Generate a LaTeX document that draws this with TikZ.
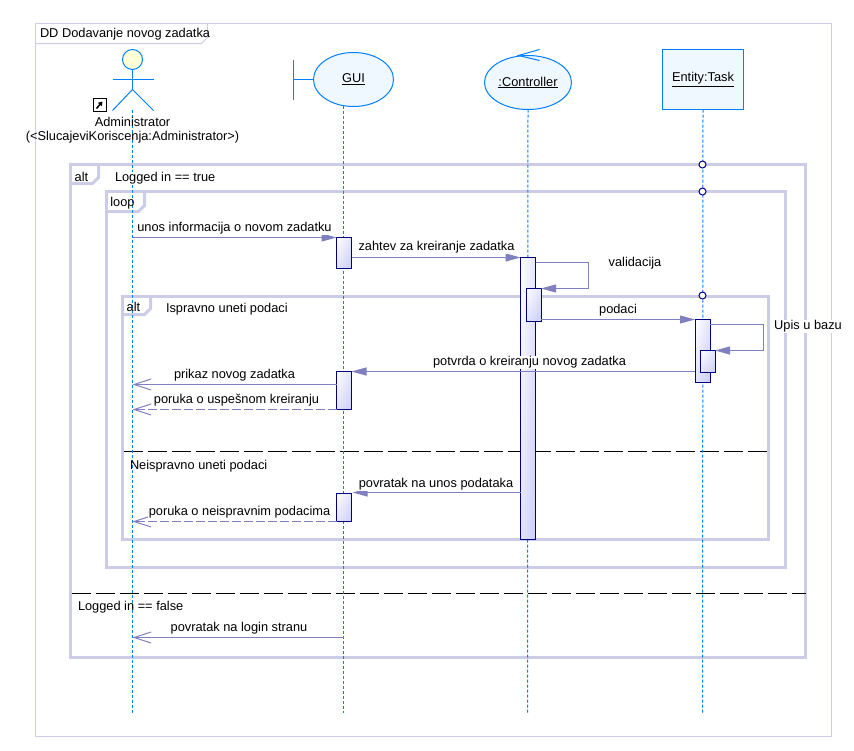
\documentclass[tikz,border=0pt]{standalone}
\usepackage{fontspec}
\setmainfont{Liberation Sans}
\usepackage{tikz}
\usetikzlibrary{arrows.meta}
\usetikzlibrary{shapes}
\usetikzlibrary{shadings}
\definecolor{lifeblue}{RGB}{0,128,255}
\definecolor{framecol}{RGB}{204,204,230}
\definecolor{msgcol}{RGB}{128,128,192}
\definecolor{actcol}{RGB}{0,0,128}
\definecolor{actfill}{RGB}{205,205,250}
\definecolor{palefill}{RGB}{240,248,255}
\definecolor{headfill}{RGB}{255,255,215}

\begin{document}
\begin{tikzpicture}[x=1pt, y=-1pt, line width=1pt, xshift=0.5pt, yshift=-0.5pt,
  txt/.style={font=\fontsize{12.8}{15}\selectfont, inner sep=0pt, text=black, yshift=-1pt},
  lbl/.style={txt, fill=white, inner xsep=1pt, inner ysep=1pt},
  life/.style={lifeblue, dash pattern=on 3pt off 2pt},
  frm/.style={framecol, line width=3pt},
  thinfrm/.style={framecol, line width=1pt},
  divider/.style={black, dash pattern=on 19pt off 5pt},
  obj/.style={draw=lifeblue, fill=palefill, font=\fontsize{12.8}{15}\selectfont, inner sep=0pt, outer sep=0pt},
  act/.style={draw=actcol, shade, minimum width=15pt, inner sep=0pt, outer sep=0pt,
    upper left=white, upper right=actfill!55, lower left=actfill!55, lower right=actfill},
  msg/.style={msgcol, -{Triangle[length=15pt,width=8pt]}},
  rmsg/.style={msgcol, -{Straight Barb[length=17pt,width=11pt]}},
  rmsgd/.style={rmsg, dash pattern=on 9pt off 3pt},
  guard/.style={draw=actcol, fill=white, circle, minimum size=7pt, inner sep=0pt}]
\useasboundingbox (-0.5,-0.5) rectangle (853.5,749.5);

% outer diagram frame
\draw[thinfrm] (35,23) rectangle (831,736);
\draw[thinfrm] (35,43) -- (201,43) -- (207,37) -- (207,23);
\node[txt, anchor=west] (title) at (39,33) {DD Dodavanje novog zadatka};

% combined fragments
\draw[frm] (70,164) rectangle (805,657);
\draw[frm] (70,183) -- (92,183) -- (98,177) -- (98,164);
\draw[frm] (106,191) rectangle (785,567);
\draw[frm] (106,211) -- (138,211) -- (144,205) -- (144,191);
\draw[frm] (122,296) rectangle (768,539);
\draw[frm] (122,314) -- (144,314) -- (150,308) -- (150,296);

\coordinate (div1a) at (123,451);
\coordinate (div1b) at (767,451);
\coordinate (div2a) at (71,593);
\coordinate (div2b) at (805,593);
\draw[divider] (div1a) -- (div1b);
\draw[divider] (div2a) -- (div2b);

% lifelines
\coordinate (admTop) at (132,109);
\coordinate (admEnd) at (132,712);
\coordinate (guiTop) at (343,105);
\coordinate (guiEnd) at (343,712);
\coordinate (ctrlEnd) at (527,712);
\coordinate (taskEnd) at (702,712);
\node[obj, ellipse, minimum width=87pt, minimum height=54pt] (ctrl) at (527.5,82) {\underline{:Controller}};
\node[obj, minimum width=81pt, minimum height=60pt] (task) at (702.5,79) {\underline{Entity:Task}};
\draw[life] (admTop) -- (admEnd);
\draw[life] (guiTop) -- (guiEnd);
\draw[life] (ctrl.south) -- (ctrlEnd);
\draw[life] (task.south) -- (taskEnd);

% guards on the task lifeline
\node[guard] (g1) at (702,164) {};
\node[guard] (g2) at (702,191) {};
\node[guard] (g3) at (702,295) {};

% actor
\node[draw=lifeblue, fill=headfill, circle, minimum size=20pt, inner sep=0pt] (head) at (132,59) {};
\coordinate (armL) at (112,79);
\coordinate (armR) at (153,79);
\coordinate (hip) at (132,89);
\coordinate (legL) at (112,110);
\coordinate (legR) at (153,110);
\draw[lifeblue] (armL) -- (armR);
\draw[lifeblue] (head.south) -- (hip);
\draw[lifeblue] (legL) -- (hip) -- (legR);
\node[draw=black, minimum size=13pt, inner sep=0pt] (link) at (99,104.5) {};
\draw[black, line width=1.5pt, -{Triangle[length=4pt,width=5pt]}] (96,108) -- (102,101);
\node[txt] (adm) at (132,120) {Administrator};
\node[txt] (adm2) at (132,136) {(<SlucajeviKoriscenja:Administrator>)};

% boundary
\node[obj, ellipse, minimum width=80pt, minimum height=54pt] (gui) at (353,79) {\underline{GUI}};
\coordinate (barTop) at (293,59);
\coordinate (barEnd) at (293,99);
\draw[lifeblue] (barTop) -- (barEnd);
\draw[lifeblue] (gui.west) -- (gui.west -| barTop);

% control arrow
\coordinate (c1) at (539,49);
\coordinate (c2) at (518,55);
\coordinate (c3) at (539,60);
\draw[lifeblue] (c1) -- (c2) -- (c3);

% activations
\node[act, minimum height=282pt] (ctrl1) at (527.5,398) {};
\node[act, minimum height=33pt] (ctrl2) at (533,304.5) {};
\node[act, minimum height=31pt] (gui1) at (343.5,252.5) {};
\node[act, minimum height=38pt] (gui2) at (343.5,390) {};
\node[act, minimum height=28pt] (gui3) at (343.5,507) {};
\node[act, minimum height=63pt] (task1) at (702,350.5) {};
\node[act, minimum height=22pt] (task2) at (707,361) {};

% messages
\draw[msg] (admTop |- gui1.north) -- (gui1.north west);
\draw[msg] (gui1.east |- ctrl1.north) -- (ctrl1.north west);
\coordinate (val1) at (588,262);
\coordinate (val2) at (588,288);
\draw[msg] (ctrl1.east |- val1) -- (val1) -- (val2) -- (ctrl2.north east);
\draw[msg] (ctrl2.east |- task1.north) -- (task1.north west);
\coordinate (upis1) at (763,324);
\coordinate (upis2) at (763,350);
\draw[msg] (task1.east |- upis1) -- (upis1) -- (upis2) -- (task2.north east);
\draw[msg] (task1.west |- gui2.north) -- (gui2.north east);
\coordinate (prikaz) at (132,384);
\draw[rmsg] (gui2.west |- prikaz) -- (prikaz);
\draw[rmsgd] (gui2.south west) -- (admTop |- gui2.south);
\coordinate (povr) at (352,492);
\draw[msg] (ctrl1.west |- povr) -- (povr);
\draw[rmsgd] (gui3.south west) -- (admTop |- gui3.south);
\coordinate (login) at (132,637);
\draw[rmsg] (guiEnd |- login) -- (login);

% labels
\node[txt] (alt1) at (81,175) {alt};
\node[lbl, anchor=west] (c1txt) at (113,177) {Logged in == true};
\node[txt] (loop1) at (122,202) {loop};
\node[txt] (alt2) at (133,305) {alt};
\node[txt, anchor=west] (c2txt) at (165,308) {Ispravno uneti podaci};
\node[txt, anchor=west] (c3txt) at (129,465) {Neispravno uneti podaci};
\node[txt, anchor=west] (c4txt) at (77,606) {Logged in == false};
\node[lbl] (m1) at (234,227) {unos informacija o novom zadatku};
\node[lbl] (m2) at (436,246) {zahtev za kreiranje zadatka};
\node[lbl] (m3) at (634.5,262) {validacija};
\node[lbl] (m4) at (617.5,309) {podaci};
\node[lbl] (m5) at (807.5,325) {Upis u bazu};
\node[lbl] (m6) at (529,361) {potvrda o kreiranju novog zadatka};
\node[lbl] (m7) at (234,374) {prikaz novog zadatka};
\node[lbl] (m8) at (236,399) {poruka o uspešnom kreiranju};
\node[lbl] (m9) at (435.5,483) {povratak na unos podataka};
\node[lbl] (m10) at (239,511) {poruka o neispravnim podacima};
\node[lbl] (m11) at (238.5,627) {povratak na login stranu};
\end{tikzpicture}
\end{document}
